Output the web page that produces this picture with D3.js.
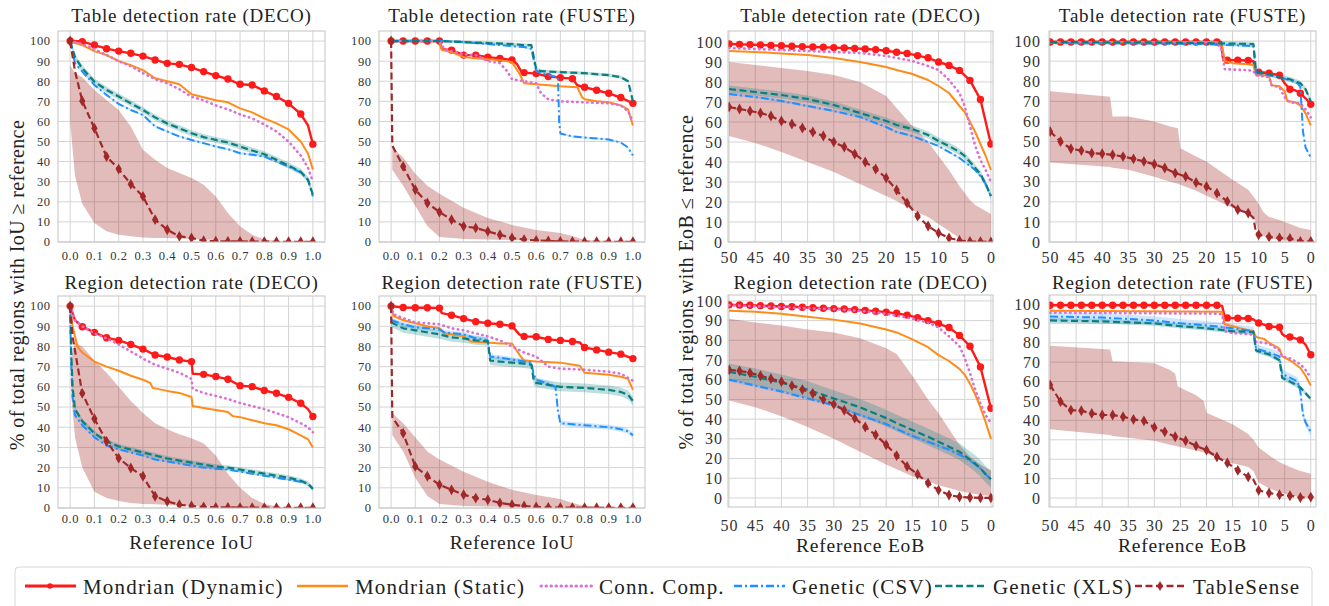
<!DOCTYPE html>
<meta charset="utf-8">
<script src="https://d3js.org/d3.v7.min.js"></script>
<style>
body { margin: 0; background: #fff; }
text { font-family: "Liberation Serif", "DejaVu Serif", serif; fill: #333; }
</style>
<body>
<script>
// ---- shared x grids ----
var iouFine = [0,0.02,0.05,0.1,0.15,0.2,0.25,0.3,0.35,0.4,0.45,0.5,0.55,0.6,0.65,0.7,0.75,0.8,0.85,0.9,0.95,0.98,1];
var iouTs = [0,0.005,0.05,0.1,0.15,0.2,0.25,0.3,0.35,0.4,0.45,0.5,0.55,0.6,0.65,0.7,0.75,0.8,0.85,0.9,0.95,1];
var eobGrid = [50,48,46,44,42,40,38,36,34,32,30,28,26,24,22,20,18,16,14,12,10,8,6,4,2,0];
var eobFine = [50,45,40,35,30,25,20,18,15,12,10,8,6,5,4,3,2,1,0];
var iouTicks = [0,0.1,0.2,0.3,0.4,0.5,0.6,0.7,0.8,0.9,1];
var eobTicks = [50,45,40,35,30,25,20,15,10,5,0];
var yTicks = [0,10,20,30,40,50,60,70,80,90,100];

// ---- panel 1: table detection (DECO), IoU ----
var p1Dyn = [100,100,99.7,98,96.2,95,93.9,92.5,90.6,88.9,88.4,86.8,84.8,82.8,81.1,78.5,78.1,75.2,72.4,69,63.7,58,48.7];
var p1Sta = [100,99,98,95,93,90,88,85.5,81.5,80,78.5,73.5,72,70.5,69.5,66.5,64.5,61.5,59,56,50,44,36];
var p1Cc  = [100,99.5,98.5,96,93,90,87.5,84,81,79,76,72.3,70.5,68,66,63.5,61.5,58.5,55,50,43,37,30];
var p1Xls = [100,92,86.4,79.8,75.7,72.4,69,65.7,62,59,56.6,54.1,52.2,50.8,49.5,47.5,45.5,43.7,40.9,38,35,31,23.5];
var p1Csv = [100,89,84.8,78.1,73.2,68.7,65.7,63.2,57.5,55,52.5,50.8,49.2,47.5,46.2,44.2,43.4,42.5,40,37.6,34.6,31,22.7];
var p1Ts  = [100,85,70.2,56.6,42.5,36.3,28.8,22.7,11.1,6.1,2.8,2,0.6,0.4,0.3,0.3,0.2,0.2,0.1,0.1,0.1,0.1,0.1];
var p1TsHi = [88,84,82,75.7,70.7,65.7,57.5,45.9,40.9,36.8,34.3,31.8,28.5,22.7,14.4,7.8,3.6,1.2,0.5,0.3,0.2,0.2,0.1];
var p1TsLo = [60,33,19,9.4,5.3,3.6,2.8,2.2,2,2,1.8,1.5,1.2,1,0.8,0.6,0.5,0.4,0.3,0.2,0.1,0.1,0];

// ---- panel 2: table detection (FUSTE), IoU ----
var p2DynX = [0,0.05,0.1,0.15,0.2,0.21,0.25,0.3,0.35,0.4,0.45,0.5,0.52,0.54,0.55,0.6,0.65,0.7,0.75,0.77,0.8,0.85,0.9,0.95,1];
var p2DynY = [100,100,100,100,100,96,95.5,93,93,92,91.4,90.6,88.6,84.5,84.3,83.8,82.3,81.8,81.3,78,77,75.5,74,71.9,69];
var p2StaX = [0,0.2,0.21,0.25,0.3,0.35,0.4,0.45,0.5,0.53,0.55,0.6,0.65,0.7,0.77,0.79,0.8,0.85,0.9,0.95,0.98,1];
var p2StaY = [100,100,95.5,94.5,92,91.5,91,90.5,89.5,84,79,78.5,78,77.5,77,72,71,70,69.5,68,66,58];
var p2CcX = [0,0.2,0.22,0.25,0.3,0.35,0.4,0.45,0.48,0.5,0.55,0.6,0.62,0.65,0.7,0.8,0.9,0.95,0.98,1];
var p2CcY = [100,100,96,95,93.5,93,90,89,85,81,80,79,74,71,70,69.5,69,68,65,60];
var p2XlsX = [0,0.2,0.3,0.4,0.5,0.55,0.58,0.6,0.62,0.7,0.8,0.9,0.95,0.98,1];
var p2XlsY = [100,100,99.5,99,98.5,98,98,86,85,84.5,84,83,82,80,70];
var p2CsvX = [0,0.2,0.3,0.4,0.5,0.55,0.58,0.6,0.62,0.69,0.695,0.7,0.75,0.8,0.9,0.95,0.98,1];
var p2CsvY = [100,100,99.5,98.5,97.5,97,96,85,84,82,60,54,52.5,52,51,49.5,47,43];
var p2Ts = [100,48,37.6,26,19.4,14.9,11.1,7.8,7,5.3,3.6,2,1.2,0.8,0.5,0.3,0.2,0.1,0.1,0.1,0.1,0.1];
var p2BandX = [0.005,0.05,0.1,0.15,0.2,0.3,0.4,0.5,0.6,0.7,0.75,0.8,0.9,1];
var p2TsHi = [47,42,34,28,24,17,12,8.5,6,4.5,3,1,0.5,0];
var p2TsLo = [36,28,18,8,2.5,1.5,1.2,1,0.8,0.5,0.4,0.3,0.1,0];

// ---- panel 3: table detection (DECO), EoB ----
var p3Dyn = [99,98.8,98.7,98.5,98.3,98.1,97.9,97.7,97.5,97.4,97.2,97,96.8,96.5,96.2,95.6,94.9,94.3,93.2,92.1,90,88.3,85.8,80.8,71.3,49];
var p3Ts  = [67.5,66.5,65.5,64.5,63,60.5,59,57,55,53,50,47.5,44,40,36.5,32,26,19.5,13,8,4.5,2,0.8,0.3,0.2,0];
var p3Sta = [95.5,95,94.3,93.5,92,90,87.5,86,84,81,78,74.5,68,65,60,55,49,43,36];
var p3Cc  = [97,96.5,96,95.5,95,94.5,93,92,90.5,88,86,81,74.5,68,58,48,41,36,30];
var p3Xls = [76.5,75,73.5,71.5,68.5,64.5,60.5,58.5,56.5,53.5,50.5,48,45,43,40,37,34,29,23];
var p3Csv = [74,72.5,70.5,68,65.5,62.5,57.5,55,53,50,48,45,42,40,38,36,33,29,23];
var p3TsHi = [90,88.5,87,85.5,83.5,80,73,67,58,50,43,36,28,24.5,21,18.5,17,15.5,14];
var p3TsLo = [53,49.5,45,40,35,29,23,20.5,16,12.5,9,5.5,2,1,0.5,0.3,0.2,0.1,0];

// ---- panel 4: table detection (FUSTE), EoB ----
var p4DynX = [50,48,46,44,42,40,38,36,34,32,30,28,26,24,22,20,18,17.2,16.8,16,14,12,11,10.6,10,8,6,5,4,3,2,1,0];
var p4DynY = [99.5,99.5,99.5,99.5,99.5,99.5,99.5,99.5,99.5,99.5,99.5,99.5,99.5,99.5,99.5,99.5,99.5,99.5,90.5,90.5,90.5,90.3,90,85,84.5,84,83,79,76,75.5,74,71.5,68.5];
var p4StaX = [50,18,17,16.5,15,12,11,10.5,9,8,7.5,6,5,4.5,3,2,1,0];
var p4StaY = [99.5,99.5,98,90,89,88.5,88,83,83,82.5,78,77.5,75,70,69.5,68,64,58];
var p4CcX = [50,18,17,16.5,12,11,10.5,8,7.5,6,5,4,2,1,0];
var p4CcY = [99.3,99.3,95,86,85.5,85,83,82,78,77,72,69.5,69,66,62];
var p4XlsX = [50,30,20,11,10.5,8,6,4,2,1,0];
var p4XlsY = [99.5,99.3,99,98.5,85,83.5,82,81,79,76,70];
var p4CsvX = [50,30,20,11,10.5,8,6,4,2.5,2,1.5,1,0];
var p4CsvY = [99,98.8,98.5,97.5,84,83,82,80.5,79,77,55,47,42];
var p4TsX = [50,48,46,44,42,40,38,36,34,32,30,28,26,24,22,20,18,16,14,12,11,10.5,10,8,6,4,2,0];
var p4TsY = [55,50,46.4,45.5,44.2,43.9,43.4,42.5,41.4,40.1,38.7,36.8,34.3,32.6,29.6,27.6,24.3,20.2,16.1,14.4,12,4.5,3.6,2.5,2,1.8,0.3,0.3];
var p4BandX = [50,38.5,38,35,30,27,25.5,25,22,20,15,12,11,10,9,8,6,4,2,0];
var p4TsHi = [75,72.3,62.5,62.4,60,57.5,56.6,46.7,42.5,40,31,26,22.7,19,14.5,12.5,11,9,7,6];
var p4TsLo = [39.5,37.3,37,36,32.5,30,29,28.5,25.5,23,17,14,13,5,3,2,1,0.5,0.2,0];

// ---- panel 5: region detection (DECO), IoU ----
var p5DynX = [0,0.02,0.05,0.1,0.15,0.2,0.25,0.3,0.35,0.4,0.45,0.5,0.505,0.55,0.6,0.65,0.7,0.75,0.8,0.85,0.9,0.95,0.98,1];
var p5DynY = [100,93,89.8,87,84.3,83,81,78.7,75.8,74.8,73.3,72.5,66.5,66.2,65.1,63.8,60.6,60.1,58.2,56.8,54.8,51.9,49,45.3];
var p5CcY  = [100,93,90,86.5,84,81,77.5,74,71,69,67,64,59,57,55.5,54,52,50.5,49,47,45,42,40,37.5];
var p5StaX = [0,0.01,0.03,0.05,0.1,0.15,0.2,0.25,0.3,0.33,0.34,0.4,0.45,0.5,0.505,0.55,0.6,0.65,0.67,0.7,0.75,0.8,0.85,0.9,0.95,0.98,1];
var p5StaY = [100,90,80,77,72.5,70,68,65.5,63.5,62,59.5,58,57,55,50.5,49.5,48.5,47.5,45.5,45,43.5,42,41,39,36,34,30];
var p5GenX = [0,0.005,0.01,0.02,0.05,0.1,0.15,0.2,0.25,0.3,0.35,0.4,0.45,0.5,0.55,0.6,0.65,0.7,0.75,0.8,0.85,0.9,0.95,0.98,1];
var p5XlsY = [100,75,60,49,43,37,33,30.5,29,27.5,26,24.5,23.5,22.5,21.5,20.5,20,19,18,17,16,15,13.5,12,9.5];
var p5CsvY = [96,70,55,46,41,35,31,29,27.5,26,24,23,22,21,20,19.5,19,18,17,16,15,14,13,12,9.5];
var p5TsX = [0,0.01,0.05,0.1,0.15,0.2,0.25,0.3,0.35,0.4,0.45,0.5,0.55,0.6,0.65,0.7,0.75,0.8,0.85,0.9,0.95,1];
var p5TsY = [100,85,56.8,44.2,33,24.7,19.8,15.7,5.8,3.3,1.6,1,0.5,0.3,0.3,0.2,0.2,0.2,0.1,0.1,0.1,0.1];
var p5BandX = [0.005,0.02,0.05,0.1,0.15,0.2,0.25,0.3,0.35,0.4,0.45,0.5,0.55,0.6,0.65,0.7,0.75,0.8,0.85,0.9,1];
var p5TsHi = [75,82,80,73,67,60,53,47,42,39,36.5,34.5,32,26,17,10,5,2,0.8,0.3,0.1];
var p5TsLo = [55,35,20,8,5,3.5,2.5,2,1.8,1.5,1.2,1,0.8,0.6,0.5,0.5,0.4,0.3,0.2,0.1,0];

// ---- panel 6: region detection (FUSTE), IoU ----
var p6DynX = [0,0.05,0.1,0.15,0.2,0.21,0.25,0.3,0.35,0.4,0.45,0.5,0.53,0.55,0.6,0.65,0.7,0.75,0.78,0.8,0.85,0.9,0.95,1];
var p6DynY = [100,99.3,99.2,99.2,99,96.5,95.5,93.8,92.3,91.5,91,90.2,86,85,84.8,83.5,83,82.5,82,79.5,78.3,77.2,76.2,74];
var p6StaX = [0,0.01,0.05,0.1,0.15,0.2,0.22,0.3,0.33,0.4,0.45,0.5,0.53,0.55,0.6,0.7,0.78,0.8,0.9,0.95,0.98,1];
var p6StaY = [100,95,93,91.5,90,89,86.5,85,82.5,82,81.5,81.5,76,73,72.5,72,70.5,67,66,65,64,58.5];
var p6CcX = [0,0.01,0.05,0.1,0.2,0.25,0.3,0.35,0.4,0.45,0.5,0.55,0.6,0.65,0.7,0.8,0.9,0.95,1];
var p6CcY = [100,96,94,92,91,89,88,86.5,85,83,80,77,75,70,69,68.5,67.5,66.5,63];
var p6XlsX = [0,0.05,0.1,0.15,0.2,0.25,0.3,0.35,0.4,0.41,0.45,0.5,0.55,0.58,0.59,0.6,0.65,0.7,0.8,0.9,0.95,0.98,1];
var p6XlsY = [92,89,88,87,86,84.5,84,83,82.5,73,72.5,72,71.5,71,63,62,61,60,59.5,58.5,57.5,56,53];
var p6CsvX = [0,0.05,0.1,0.15,0.2,0.22,0.3,0.35,0.4,0.41,0.45,0.5,0.58,0.59,0.6,0.65,0.68,0.69,0.7,0.75,0.8,0.9,0.95,0.98,1];
var p6CsvY = [93,91,89.5,89,88.5,87,86,84,83,75,74.5,73.5,72,66,63.5,61.5,60,48,42,41.5,41,40,39,38,36];
var p6Ts = [100,45,37,20.6,15.7,11.5,9,6.6,4.9,4.1,2.5,1.6,1,0.5,0.3,0.2,0.2,0.1,0.1,0.1,0.1,0.1];
var p6BandX = [0.005,0.05,0.1,0.15,0.2,0.3,0.4,0.5,0.6,0.7,0.75,0.8,1];
var p6TsHi = [47,42,35,28,24,18,13,9,6.5,4.5,2.5,1,0.3];
var p6TsLo = [36,28,15,6,2,1,0.8,0.5,0.4,0.3,0.2,0.1,0];

// ---- panel 7: region detection (DECO), EoB ----
var p7Dyn = [98,97.9,97.8,97.6,97.4,97.2,97,96.8,96.5,96.3,96.1,95.9,95.6,95.2,94.8,94.3,93.7,92.8,91.5,90,88.5,86.5,82.5,77,66.5,45.5];
var p7Ts  = [65,64.5,63.5,62,60.5,59,57,55,53,50,47.5,44.5,40.5,36,32,27,21.5,16,12,7.5,4,1.5,0.5,0.2,0,0];
var p7Cc  = [97.8,97.3,96.8,96.3,95.8,95,93.5,92.5,91,89,86.5,82,77,71,63.4,55,48,42,38];
var p7Sta = [95,94.5,93.5,92,90.5,88.5,85.5,84,80.5,76.5,72.5,69.5,65.5,62.5,58,52.5,46,38.5,30];
var p7Xls = [64,61.5,58.5,55,50.5,46,40.5,38,34.5,31,28.5,26,23.5,21.5,19.5,17.5,15,12,9.5];
var p7Csv = [60,57,54,50.5,47,42,37.5,35,31.5,28.5,26.5,24.5,22,20.5,19,17,15,12,9.5];
var p7TsHi = [91,89,87.5,85.5,84,81,76,73,62,50,43,35,27,24,21,19,17,15.5,14];
var p7TsLo = [49.5,46,41.5,36,30,23.5,17,14.5,11,8.5,6.5,5,3.5,3,2.5,2,1.5,1.2,1];

// ---- panel 8: region detection (FUSTE), EoB ----
var p8DynX = [50,48,46,44,42,40,38,36,34,32,30,28,26,24,22,20,18,17,16.5,16,14,12,11,10,8,6,5.5,5,4,2,1,0];
var p8DynY = [99.3,99.3,99.3,99.3,99.3,99.3,99.3,99.3,99.3,99.3,99.3,99.3,99.3,99.3,99.3,99.3,99.3,99,93,92.8,92.6,92.5,92,90.2,88.4,88,84.5,83.5,83,81.5,79,73.8];
var p8StaX = [50,17,16.5,15,12,11,10.5,9,8,6,5.5,4,2,1,0];
var p8StaY = [96.5,96,89.5,88.5,86.5,86,83,82,80,77,73,71,67,63,58];
var p8CcX = [50,18,17,16.5,15,12,11,10.5,9,8,6,5.5,4,3,2,1,0];
var p8CcY = [95.5,95,94.5,86,85,84.5,84,80.5,80,79.5,76,73,72,70.5,69,66,62];
var p8XlsX = [50,40,30,25,20,15,11,10.5,8,6,5.5,4,2,1,0];
var p8XlsY = [91.5,91,90,88.5,87.5,86,85.5,76,74,71,62,60,57,54,51];
var p8CsvX = [50,40,30,25,20,15,11,10.5,8,6,5.5,4,2.5,2,1.5,1,0];
var p8CsvY = [93.5,93,91.5,90,89,87.5,86,77,75,73,64,62,60,55,43,39,34];
var p8TsX = [50,48,46,44,42,40,38,36,34,32,30,28,26,24,22,20,18,16,14,12,11,10,8,6,4,2,0];
var p8TsY = [58.3,49.7,45.3,45,43.6,42.8,42.8,41.9,40.5,39.8,36.4,34.1,31.6,29.5,26.9,24.7,21.2,18.1,14.3,10.9,9.5,4,2.6,1.7,1.2,0.3,0.5];
var p8BandX = [50,38.5,38,30,27,26,25.5,22,20.5,20,15,12,11,10,8,6,4,2,0];
var p8TsHi = [78.5,76.5,70.5,69.5,66,64,57.5,53,50,44,38,33,30,26,22,18.5,16,14,12.5];
var p8TsLo = [35.5,32.5,32,29.5,27.5,27,26.5,24.5,23.5,23,18,16,14,8,5,3,1.5,0.5,0];

// spread of the Genetic runs (panel 1..8)
var xlsSpread = [1.5, 0.8, 1.8, 1.2, 1.2, 2.2, 4.2, 1.2];
var csvSpread = [0.5, 0.5, 0.6, 0.6, 0.5, 1.2, 0.8, 2.2];

var titles = ["Table detection rate (DECO)", "Table detection rate (FUSTE)", "Table detection rate (DECO)", "Table detection rate (FUSTE)",
              "Region detection rate (DECO)", "Region detection rate (FUSTE)", "Region detection rate (DECO)", "Region detection rate (FUSTE)"];

// ---- series styles (legend order = drawing order) ----
var styles = [
  {key: "dyn", name: "Mondrian (Dynamic)", color: "#ff1a1a", dash: null, w: 2.4, marker: "circle"},
  {key: "sta", name: "Mondrian (Static)", color: "#ff8c1a", dash: null, w: 2},
  {key: "cc", name: "Conn. Comp.", color: "#da70d6", dash: "0.5,4.5", w: 2.6, cap: "round"},
  {key: "csv", name: "Genetic (CSV)", color: "#1e90ff", dash: "8,3,2,3", w: 2},
  {key: "xls", name: "Genetic (XLS)", color: "#0b7f7f", dash: "7,3.5", w: 2.2},
  {key: "ts", name: "TableSense", color: "#a02828", dash: "7,3.5", w: 2.2, marker: "diamond"}
];

function z(xs, ys) { return xs.map(function(x, i) { return [x, ys[i]]; }); }

var panels = [
  {L: 58, R: 325, T: 31, B: 242, xd: [-0.05, 1.05], yd: [0, 105], kind: "iou", row: 0,
   s: {dyn: z(iouFine, p1Dyn), sta: z(iouFine, p1Sta), cc: z(iouFine, p1Cc), csv: z(iouFine, p1Csv), xls: z(iouFine, p1Xls), ts: z(iouFine, p1Ts)},
   band: [iouFine, p1TsHi, p1TsLo]},
  {L: 379, R: 645, T: 31, B: 242, xd: [-0.05, 1.05], yd: [0, 105], kind: "iou", row: 0,
   s: {dyn: z(p2DynX, p2DynY), sta: z(p2StaX, p2StaY), cc: z(p2CcX, p2CcY), csv: z(p2CsvX, p2CsvY), xls: z(p2XlsX, p2XlsY), ts: z(iouTs, p2Ts)},
   band: [p2BandX, p2TsHi, p2TsLo]},
  {L: 728, R: 993, T: 31, B: 242, xd: [50.2, -0.4], yd: [0, 105.5], kind: "eob", row: 0,
   s: {dyn: z(eobGrid, p3Dyn), sta: z(eobFine, p3Sta), cc: z(eobFine, p3Cc), csv: z(eobFine, p3Csv), xls: z(eobFine, p3Xls), ts: z(eobGrid, p3Ts)},
   band: [eobFine, p3TsHi, p3TsLo]},
  {L: 1049, R: 1316, T: 31, B: 242, xd: [50.2, -1], yd: [0, 105], kind: "eob", row: 0,
   s: {dyn: z(p4DynX, p4DynY), sta: z(p4StaX, p4StaY), cc: z(p4CcX, p4CcY), csv: z(p4CsvX, p4CsvY), xls: z(p4XlsX, p4XlsY), ts: z(p4TsX, p4TsY)},
   band: [p4BandX, p4TsHi, p4TsLo]},
  {L: 58, R: 325, T: 296, B: 508, xd: [-0.05, 1.05], yd: [0, 105], kind: "iou", row: 1,
   s: {dyn: z(p5DynX, p5DynY), sta: z(p5StaX, p5StaY), cc: z(p5DynX, p5CcY), csv: z(p5GenX, p5CsvY), xls: z(p5GenX, p5XlsY), ts: z(p5TsX, p5TsY)},
   band: [p5BandX, p5TsHi, p5TsLo]},
  {L: 379, R: 645, T: 296, B: 508, xd: [-0.05, 1.05], yd: [0, 105], kind: "iou", row: 1,
   s: {dyn: z(p6DynX, p6DynY), sta: z(p6StaX, p6StaY), cc: z(p6CcX, p6CcY), csv: z(p6CsvX, p6CsvY), xls: z(p6XlsX, p6XlsY), ts: z(iouTs, p6Ts)},
   band: [p6BandX, p6TsHi, p6TsLo]},
  {L: 728, R: 993, T: 295, B: 507, xd: [50.2, -0.4], yd: [-4.6, 103], kind: "eob", row: 1,
   s: {dyn: z(eobGrid, p7Dyn), sta: z(eobFine, p7Sta), cc: z(eobFine, p7Cc), csv: z(eobFine, p7Csv), xls: z(eobFine, p7Xls), ts: z(eobGrid, p7Ts)},
   band: [eobFine, p7TsHi, p7TsLo]},
  {L: 1049, R: 1316, T: 295, B: 507, xd: [50.2, -1], yd: [-4.6, 104.6], kind: "eob", row: 1,
   s: {dyn: z(p8DynX, p8DynY), sta: z(p8StaX, p8StaY), cc: z(p8CcX, p8CcY), csv: z(p8CsvX, p8CsvY), xls: z(p8XlsX, p8XlsY), ts: z(p8TsX, p8TsY)},
   band: [p8BandX, p8TsHi, p8TsLo]}
];

var W = 1329, H = 606;
var svg = d3.select("body").append("svg").attr("width", W).attr("height", H);

panels.forEach(function(p, pi) {
  var x = d3.scaleLinear().domain(p.xd).range([p.L, p.R]);
  var y = d3.scaleLinear().domain(p.yd).range([p.B, p.T]);
  var g = svg.append("g");
  var eob = p.kind == "eob";
  var tickFs = eob ? 16 : 12.5;
  var tickLs = eob ? 0.9 : 0.6;
  var xt = eob ? eobTicks : iouTicks;

  g.append("clipPath").attr("id", "clip" + pi).append("rect")
    .attr("x", p.L).attr("y", p.T).attr("width", p.R - p.L).attr("height", p.B - p.T);

  // grid
  g.selectAll(".gx").data(xt).enter().append("line")
    .attr("x1", d => x(d)).attr("x2", d => x(d)).attr("y1", p.T).attr("y2", p.B)
    .attr("stroke", "#d4d4d4").attr("stroke-width", 1);
  g.selectAll(".gy").data(yTicks).enter().append("line")
    .attr("x1", p.L).attr("x2", p.R).attr("y1", d => y(d)).attr("y2", d => y(d))
    .attr("stroke", "#d4d4d4").attr("stroke-width", 1);

  // tick labels
  g.selectAll(".tx").data(xt).enter().append("text")
    .attr("x", d => x(d) + tickLs / 2).attr("y", p.B + (eob ? (p.row ? 18 : 15) : (p.row ? 11 : 14)))
    .attr("dy", "0.35em").attr("text-anchor", "middle")
    .style("font-size", tickFs + "px").style("letter-spacing", tickLs + "px")
    .text(d => eob ? d : d3.format(".1f")(d));
  g.selectAll(".ty").data(yTicks).enter().append("text")
    .attr("x", p.L - (pi == 3 || pi == 7 ? 9 : (eob ? 6 : 8)) + tickLs).attr("y", d => y(d))
    .attr("dy", "0.35em").attr("text-anchor", "end")
    .style("font-size", tickFs + "px").style("letter-spacing", tickLs + "px")
    .text(d => d);

  var plot = g.append("g").attr("clip-path", "url(#clip" + pi + ")");

  // TableSense band
  var bx = p.band[0];
  var area = d3.area().x(d => x(d[0])).y0(d => y(d[2])).y1(d => y(d[1]));
  plot.append("path").datum(bx.map((v, i) => [v, p.band[1][i], p.band[2][i]]))
    .attr("d", area).attr("fill", "#a52a2a").attr("fill-opacity", 0.32);

  // Genetic bands
  [["xls", xlsSpread[pi], "#008080", 0.25], ["csv", csvSpread[pi], "#1e90ff", 0.22]].forEach(function(b) {
    var sp = b[1];
    plot.append("path").datum(p.s[b[0]])
      .attr("d", d3.area().x(d => x(d[0])).y0(d => y(d[1] - sp)).y1(d => y(d[1] + sp)))
      .attr("fill", b[2]).attr("fill-opacity", b[3]);
  });

  var line = d3.line().x(d => x(d[0])).y(d => y(d[1]));
  styles.forEach(function(st) {
    var data = p.s[st.key];
    plot.append("path").datum(data).attr("d", line)
      .attr("fill", "none").attr("stroke", st.color).attr("stroke-width", st.w)
      .attr("stroke-dasharray", st.dash).attr("stroke-linecap", st.cap || "butt")
      .attr("stroke-linejoin", "round");
    if (st.marker) {
      var step = eob ? 2 : 0.05;
      var pts = data.filter(d => Math.abs(d[0] / step - Math.round(d[0] / step)) < 1e-6);
      if (st.marker == "circle") {
        plot.selectAll(null).data(pts).enter().append("circle")
          .attr("cx", d => x(d[0])).attr("cy", d => y(d[1])).attr("r", 3.7)
          .attr("fill", st.color);
      } else {
        plot.selectAll(null).data(pts).enter().append("path")
          .attr("d", d3.symbol().type(d3.symbolDiamond).size(34))
          .attr("transform", d => "translate(" + x(d[0]) + "," + y(d[1]) + ")")
          .attr("fill", st.color);
      }
    }
  });

  // frame
  g.append("rect").attr("x", p.L).attr("y", p.T).attr("width", p.R - p.L).attr("height", p.B - p.T)
    .attr("fill", "none").attr("stroke", "#c4c4c4").attr("stroke-width", 1);

  // title
  g.append("text").attr("x", (p.L + p.R) / 2).attr("y", p.row ? 282 : 15).attr("dy", "0.35em")
    .attr("text-anchor", "middle").style("font-size", "19px").style("letter-spacing", "0.8px")
    .style("fill", "#222").text(titles[pi]);

  if (p.row == 1) {
    g.append("text").attr("x", (p.L + p.R) / 2).attr("y", eob ? 545 : 542).attr("dy", "0.35em")
      .attr("text-anchor", "middle").style("font-size", "19.5px").style("letter-spacing", "0.8px")
      .style("fill", "#222").text(eob ? "Reference EoB" : "Reference IoU");
  }
});

// y axis titles
svg.append("text").attr("transform", "translate(17,285) rotate(-90)").attr("dy", "0.35em")
  .attr("text-anchor", "middle").style("font-size", "20px").style("letter-spacing", "0.4px")
  .style("fill", "#222").text("% of total regions with IoU \u2265 reference");
svg.append("text").attr("transform", "translate(686,282) rotate(-90)").attr("dy", "0.35em")
  .attr("text-anchor", "middle").style("font-size", "20px").style("letter-spacing", "0.4px")
  .style("fill", "#222").text("% of total regions with EoB \u2264 reference");

// legend
var leg = svg.append("g");
leg.append("rect").attr("x", 15).attr("y", 567).attr("width", 1297).attr("height", 46).attr("rx", 4)
  .attr("fill", "#fff").attr("stroke", "#d6d6d6");
var legX = [25, 297, 541, 734, 935, 1135];
styles.forEach(function(st, i) {
  var lx = legX[i], ly = 586;
  leg.append("line").attr("x1", lx).attr("x2", lx + 51).attr("y1", ly).attr("y2", ly)
    .attr("stroke", st.color).attr("stroke-width", st.w + 0.4)
    .attr("stroke-dasharray", st.dash).attr("stroke-linecap", st.cap || "butt");
  if (st.marker == "circle") {
    leg.append("circle").attr("cx", lx + 25).attr("cy", ly).attr("r", 2.8).attr("fill", st.color);
  } else if (st.marker) {
    leg.append("path").attr("d", d3.symbol().type(d3.symbolDiamond).size(30))
      .attr("transform", "translate(" + (lx + 25) + "," + ly + ")").attr("fill", st.color);
  }
  leg.append("text").attr("x", lx + 58).attr("y", ly + 1).attr("dy", "0.35em")
    .style("font-size", "21px").style("letter-spacing", "1.2px")
    .style("fill", "#222").text(st.name);
});
</script>
</body>
</html>
